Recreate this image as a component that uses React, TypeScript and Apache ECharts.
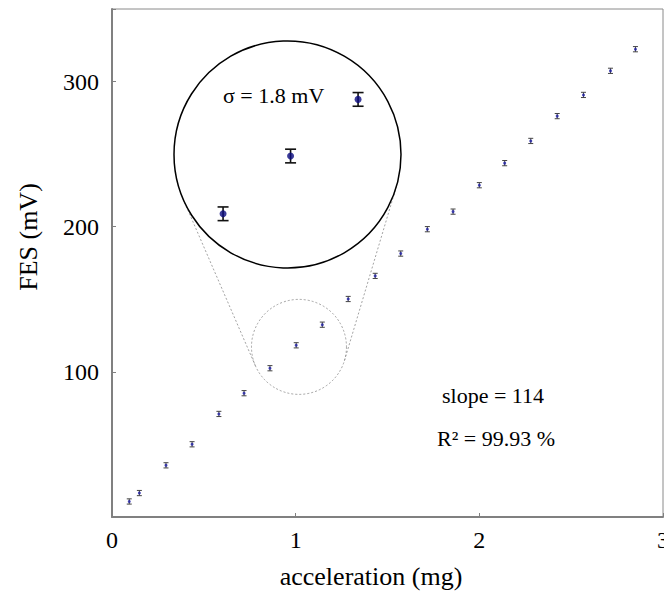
import React, { useEffect, useRef } from "react";
import * as echarts from "echarts";

// main data: acceleration (mg) vs FES (mV)
const accel = [0.094, 0.149, 0.294, 0.436, 0.582, 0.719, 0.86, 1.003, 1.145, 1.286, 1.433, 1.572, 1.717, 1.857, 2.0, 2.138, 2.28, 2.424, 2.567, 2.714, 2.85];
const fes = [10.7, 16.5, 35.6, 50.1, 71.0, 85.3, 102.5, 118.3, 132.5, 150.2, 166.1, 181.5, 198.3, 210.4, 228.6, 243.8, 259.1, 276.2, 290.8, 307.4, 322.3];
const sigma = 1.8;

// magnified inset points
const insetAccel = [0.857, 1.0, 1.143];
const insetFes = [103.1, 118.3, 133.2];

const xTickValues = [0, 1, 2, 3];
const yTickValues = [100, 200, 300];

const zoomCenter = [1.018, 117.2];

const FONT = "'Liberation Serif', 'Times New Roman', serif";

export default function App() {
  const ref = useRef<HTMLDivElement>(null);
  useEffect(() => {
    if (!ref.current) return;
    const chart = echarts.init(ref.current, null, { renderer: "svg" });

    const errItem = (capHalf: number, stroke: string, lw: number) => (params: any, api: any) => {
      const x = api.value(0);
      const y = api.value(1);
      const e = api.value(2);
      const t = api.coord([x, y + e]);
      const b = api.coord([x, y - e]);
      const style = { stroke, lineWidth: lw, fill: "none" };
      return {
        type: "group",
        children: [
          { type: "line", shape: { x1: t[0], y1: t[1], x2: b[0], y2: b[1] }, style },
          { type: "line", shape: { x1: t[0] - capHalf, y1: t[1], x2: t[0] + capHalf, y2: t[1] }, style },
          { type: "line", shape: { x1: b[0] - capHalf, y1: b[1], x2: b[0] + capHalf, y2: b[1] }, style },
        ],
      };
    };

    const mainData = accel.map((x, i) => [x, fes[i], sigma]);
    const insetData = insetAccel.map((x, i) => [x, insetFes[i], sigma]);

    chart.setOption({
      animation: false,
      grid: [
        {
          left: 112,
          top: 9,
          right: 1,
          bottom: 74,
          outerBoundsMode: "none",
          containLabel: false,
          show: true,
          borderColor: "#8a8a8a",
          borderWidth: 1,
          backgroundColor: "transparent",
        },
        { left: 173.5, top: 40.5, width: 228, height: 228, outerBoundsMode: "none", containLabel: false },
      ],
      xAxis: [
        {
          type: "value",
          gridIndex: 0,
          min: 0,
          max: 3,
          interval: 1,
          axisLine: { show: true, onZero: false, lineStyle: { color: "#808080", width: 2 } },
          axisTick: { show: true, inside: true, length: 4, lineStyle: { color: "#808080" } },
          splitLine: { show: false },
          axisLabel: {
            show: true,
            margin: 11,
            color: "#000",
            fontFamily: FONT,
            fontSize: 24,
            showMaxLabel: true,
            showMinLabel: true,
            hideOverlap: false,
            formatter: (v: number) => (xTickValues.includes(v) ? String(v) : ""),
          },
        },
        { type: "value", gridIndex: 1, min: 0.752, max: 1.235, show: false, splitLine: { show: false } },
      ],
      yAxis: [
        {
          type: "value",
          gridIndex: 0,
          min: 0,
          max: 350,
          interval: 100,
          axisLine: { show: true, onZero: false, lineStyle: { color: "#808080", width: 2 } },
          axisTick: { show: true, inside: true, length: 4, lineStyle: { color: "#808080" } },
          splitLine: { show: false },
          axisLabel: {
            show: true,
            margin: 13,
            color: "#000",
            fontFamily: FONT,
            fontSize: 24,
            formatter: (v: number) => (yTickValues.includes(v) ? String(v) : ""),
          },
        },
        { type: "value", gridIndex: 1, min: 88.7, max: 148.7, show: false, splitLine: { show: false } },
      ],
      series: [
        {
          type: "custom",
          xAxisIndex: 0,
          yAxisIndex: 0,
          data: mainData,
          renderItem: errItem(2.5, "#444", 1),
          z: 2,
        },
        {
          type: "scatter",
          xAxisIndex: 0,
          yAxisIndex: 0,
          data: mainData.map((d) => [d[0], d[1]]),
          symbol: "circle",
          symbolSize: 3,
          itemStyle: { color: "#1f1fa8" },
          z: 3,
        },
        {
          type: "custom",
          xAxisIndex: 1,
          yAxisIndex: 1,
          data: insetData,
          renderItem: errItem(5.5, "#111", 1.6),
          z: 6,
        },
        {
          type: "scatter",
          xAxisIndex: 1,
          yAxisIndex: 1,
          data: insetData.map((d) => [d[0], d[1]]),
          symbol: "circle",
          symbolSize: 7,
          itemStyle: { color: "#0a0a80" },
          z: 7,
        },
      ],
    });

    // annotation geometry from the axes
    const c1 = chart.convertToPixel({ xAxisIndex: 0, yAxisIndex: 0 }, zoomCenter) as number[];
    const r1 = 47.5;
    const c2 = chart.convertToPixel({ xAxisIndex: 1, yAxisIndex: 1 }, [(0.752 + 1.235) / 2, (88.7 + 148.7) / 2]) as number[];
    const r2 = 113.5;
    const dx = c2[0] - c1[0];
    const dy = c2[1] - c1[1];
    const D = Math.sqrt(dx * dx + dy * dy);
    const base = Math.atan2(dy, dx);
    const phi = Math.acos((r1 - r2) / D);
    const tangents = [base + phi, base - phi].map((a) => {
      const nx = Math.cos(a);
      const ny = Math.sin(a);
      return {
        type: "line",
        z: 4,
        silent: true,
        shape: { x1: c1[0] + r1 * nx, y1: c1[1] + r1 * ny, x2: c2[0] + r2 * nx, y2: c2[1] + r2 * ny },
        style: { stroke: "#8c8c8c", lineWidth: 0.8, lineDash: [2, 2] },
      };
    });

    chart.setOption({
      graphic: [
        ...tangents,
        {
          type: "circle",
          z: 4,
          silent: true,
          shape: { cx: c1[0], cy: c1[1], r: r1 },
          style: { fill: "none", stroke: "#8c8c8c", lineWidth: 0.8, lineDash: [2, 2] },
        },
        {
          type: "circle",
          z: 5,
          silent: true,
          shape: { cx: c2[0], cy: c2[1], r: r2 },
          style: { fill: "#fff", stroke: "#000", lineWidth: 1.5 },
        },
        {
          type: "text",
          z: 8,
          x: 223,
          y: 95,
          style: { text: "σ = 1.8 mV", fontFamily: FONT, fontSize: 22, fill: "#000", textAlign: "left", textVerticalAlign: "middle" },
        },
        {
          type: "text",
          z: 8,
          x: 442,
          y: 395,
          style: { text: "slope = 114", fontFamily: FONT, fontSize: 22, fill: "#000", textAlign: "left", textVerticalAlign: "middle" },
        },
        {
          type: "text",
          z: 8,
          x: 437,
          y: 438,
          style: { text: "R² = 99.93 %", fontFamily: FONT, fontSize: 22, fill: "#000", textAlign: "left", textVerticalAlign: "middle" },
        },
        {
          type: "text",
          z: 8,
          x: 371,
          y: 576,
          style: { text: "acceleration (mg)", fontFamily: FONT, fontSize: 26, fill: "#000", textAlign: "center", textVerticalAlign: "middle" },
        },
        {
          type: "text",
          z: 8,
          x: 28,
          y: 237,
          rotation: Math.PI / 2,
          style: { text: "FES (mV)", fontFamily: FONT, fontSize: 26, fill: "#000", textAlign: "center", textVerticalAlign: "middle" },
        },
      ],
    });

    return () => chart.dispose();
  }, []);

  return <div ref={ref} style={{ width: 664, height: 591, position: "absolute", left: 0, top: 0 }} />;
}
